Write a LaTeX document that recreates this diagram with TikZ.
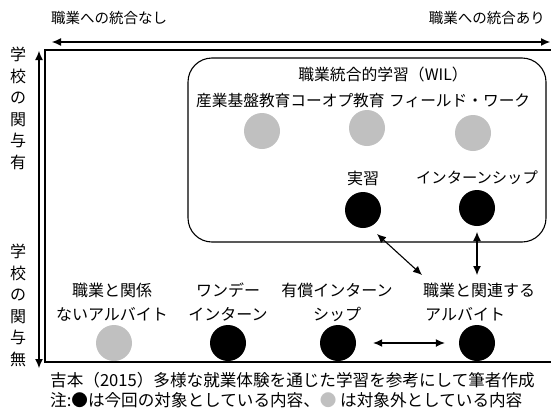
\documentclass[tikz,border=0pt]{standalone}
\usepackage{fontspec}
\setmainfont{Noto Sans CJK JP}
\usetikzlibrary{arrows.meta}
\definecolor{offgray}{RGB}{192,192,192}
\tikzset{
  conn/.style={line width=1.1pt,{Latex[length=9pt,width=8pt]}-{Latex[length=9pt,width=8pt]}},
  lab/.style={font=\fontsize{16}{24}\selectfont,inner sep=0pt,align=center},
  toplab/.style={font=\fontsize{14.5}{18}\selectfont,inner sep=0pt},
  vlab/.style={font=\fontsize{16}{21.5}\selectfont,inner sep=0pt,align=center},
  captext/.style={font=\fontsize{16.6}{18}\selectfont,inner sep=0pt,anchor=west},
  dotin/.style={circle,fill=black,minimum size=36pt,inner sep=0pt},
  dotout/.style={circle,fill=offgray,minimum size=36pt,inner sep=0pt},
}
\begin{document}
\begin{tikzpicture}[x=1pt,y=-1pt]
\clip (0,0) rectangle (551,407);
% top axis
\coordinate (tl) at (52,42);
\coordinate (tr) at (550,42);
\draw[conn] (tl) -- (tr);
\node[toplab,anchor=west] (nashi) at (51,18) {職業への統合なし};
\node[toplab,anchor=east] (ari) at (545,18) {職業への統合あり};
% left axis
\coordinate (lt) at (39,51);
\coordinate (lb) at (39,368);
\draw[conn] (lt) -- (lb);
\node[vlab,anchor=north] (yu) at (18,47) {学\\校\\の\\関\\与\\有};
\node[vlab,anchor=north] (mu) at (18,244) {学\\校\\の\\関\\与\\無};
% frame
\draw[line width=2.4pt] (45,50) rectangle (600,362);
% WIL box
\draw[line width=1.1pt,rounded corners=24pt] (188,58) rectangle (546,242);
\node[lab,font=\fontsize{15.8}{20}\selectfont] (wil) at (383,74) {職業統合的学習（WIL）};
\node[lab,font=\fontsize{15.7}{20}\selectfont,anchor=west] (row1) at (196,101) {産業基盤教育コーオプ教育};
\node[lab,font=\fontsize{15.7}{20}\selectfont,anchor=west] (row2) at (389,101) {フィールド・ワーク};
\node[dotout] (g1) at (262,131) {};
\node[dotout] (g2) at (367,128) {};
\node[dotout] (g3) at (473,133) {};
\node[lab] (jt) at (363,178) {実習};
\node[lab,font=\fontsize{15.3}{20}\selectfont] (it) at (477,178) {インターンシップ};
\node[dotin] (jd) at (363,210) {};
\node[dotin] (id) at (477,208) {};
% bottom row
\node[lab] (b1) at (112,302) {職業と関係\\ないアルバイト};
\node[lab] (b2) at (228,302) {ワンデー\\インターン};
\node[lab] (b3) at (337,302) {有償インターン\\シップ};
\node[lab,align=left,anchor=west] (b4) at (423,302) {職業と関連する\\\hspace{2pt}アルバイト};
\node[dotout] (c1) at (114,343) {};
\node[dotin] (c2) at (228,343) {};
\node[dotin] (c3) at (338,343) {};
\node[dotin] (c4) at (477,343) {};
% connectors
\coordinate (a1) at (377,234);
\coordinate (a2) at (422,275);
\draw[conn] (a1) -- (a2);
\coordinate (v1) at (477,232);
\coordinate (v2) at (477,275);
\draw[conn] (v1) -- (v2);
\draw[conn] ([xshift=17pt]c3.east) -- ([xshift=-14pt]c4.west);
% captions
\node[captext] (cap1) at (50,380) {吉本（2015）多様な就業体験を通じた学習を参考にして筆者作成};
\node[captext] (cap2) at (50,400) {注:●は今回の対象としている内容、{\color{offgray}●} は対象外としている内容};
\end{tikzpicture}
\end{document}
